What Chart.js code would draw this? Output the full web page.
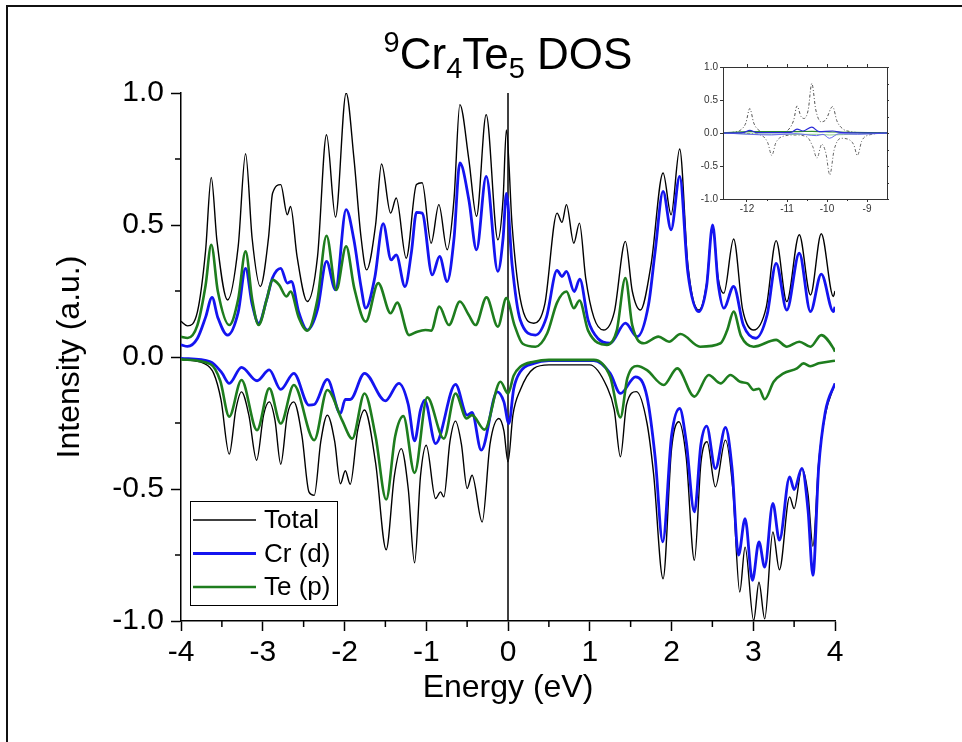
<!DOCTYPE html>
<html>
<head>
<meta charset="utf-8">
<title>Cr4Te5 DOS</title>
<script src="https://cdn.jsdelivr.net/npm/chart.js@4.4.1/dist/chart.umd.min.js"></script>
<style>
  html, body { margin: 0; padding: 0; background: #fff; }
  #wrap { position: relative; width: 962px; height: 742px; overflow: hidden; }
  #main { position: absolute; left: 0; top: 0; }
  #inset { position: absolute; left: 680px; top: 50px; }
</style>
</head>
<body>
<div id="wrap">
  <canvas id="main" width="962" height="742"></canvas>
  <canvas id="inset" width="220" height="170"></canvas>
</div>
<script>
// 読み取った値 (energy eV, intensity)
const totalUp = [[-4.00,0.135],[-3.92,0.118],[-3.80,0.17],[-3.70,0.40],[-3.63,0.68],[-3.56,0.44],[-3.43,0.216],[-3.30,0.42],[-3.21,0.77],[-3.13,0.45],[-3.03,0.267],[-2.93,0.45],[-2.88,0.62],[-2.78,0.653],[-2.70,0.539],[-2.66,0.57],[-2.58,0.38],[-2.455,0.21],[-2.33,0.38],[-2.22,0.842],[-2.11,0.53],[-1.98,1.0],[-1.885,0.754],[-1.80,0.46],[-1.73,0.33],[-1.62,0.50],[-1.547,0.731],[-1.436,0.545],[-1.367,0.602],[-1.245,0.374],[-1.12,0.653],[-1.05,0.66],[-0.94,0.431],[-0.846,0.577],[-0.744,0.406],[-0.66,0.60],[-0.589,0.956],[-0.479,0.748],[-0.385,0.533],[-0.267,0.918],[-0.124,0.444],[-0.06,0.60],[-0.02,0.86],[0.05,0.50],[0.15,0.22],[0.316,0.128],[0.45,0.20],[0.60,0.545],[0.66,0.51],[0.715,0.577],[0.805,0.431],[0.874,0.507],[0.95,0.30],[1.05,0.15],[1.17,0.102],[1.30,0.17],[1.436,0.438],[1.52,0.25],[1.62,0.178],[1.75,0.35],[1.897,0.697],[1.995,0.539],[2.10,0.788],[2.20,0.35],[2.333,0.178],[2.43,0.28],[2.503,0.50],[2.57,0.30],[2.64,0.242],[2.76,0.447],[2.87,0.18],[3.005,0.102],[3.16,0.19],[3.28,0.441],[3.41,0.21],[3.563,0.463],[3.70,0.235],[3.832,0.467],[3.98,0.229],[4.00,0.25]];
const crUp = [[-4.00,0.046],[-3.92,0.040],[-3.80,0.07],[-3.70,0.15],[-3.62,0.226],[-3.55,0.15],[-3.43,0.083],[-3.30,0.17],[-3.21,0.336],[-3.13,0.20],[-3.05,0.128],[-2.95,0.22],[-2.88,0.30],[-2.78,0.336],[-2.70,0.28],[-2.65,0.286],[-2.56,0.17],[-2.455,0.102],[-2.33,0.18],[-2.22,0.362],[-2.11,0.254],[-1.98,0.558],[-1.885,0.444],[-1.80,0.27],[-1.74,0.185],[-1.63,0.30],[-1.527,0.505],[-1.43,0.368],[-1.367,0.387],[-1.26,0.267],[-1.18,0.40],[-1.12,0.548],[-1.05,0.545],[-0.927,0.311],[-0.837,0.381],[-0.744,0.286],[-0.66,0.45],[-0.589,0.735],[-0.479,0.596],[-0.385,0.406],[-0.267,0.684],[-0.124,0.324],[-0.06,0.45],[-0.02,0.62],[0.05,0.35],[0.15,0.14],[0.336,0.083],[0.47,0.15],[0.60,0.328],[0.66,0.305],[0.715,0.324],[0.81,0.248],[0.878,0.295],[0.98,0.14],[1.10,0.07],[1.25,0.052],[1.436,0.128],[1.58,0.077],[1.72,0.20],[1.80,0.40],[1.897,0.627],[1.995,0.482],[2.10,0.684],[2.20,0.32],[2.333,0.172],[2.43,0.27],[2.503,0.50],[2.57,0.28],[2.64,0.185],[2.76,0.267],[2.88,0.12],[3.03,0.071],[3.17,0.16],[3.28,0.355],[3.41,0.178],[3.563,0.393],[3.70,0.172],[3.832,0.314],[3.98,0.172],[4.00,0.19]];
const teUp = [[-4.00,0.077],[-3.92,0.072],[-3.80,0.12],[-3.70,0.27],[-3.63,0.425],[-3.55,0.25],[-3.41,0.121],[-3.30,0.22],[-3.21,0.40],[-3.13,0.22],[-3.05,0.121],[-2.95,0.22],[-2.88,0.292],[-2.80,0.273],[-2.71,0.229],[-2.66,0.248],[-2.56,0.15],[-2.455,0.10],[-2.33,0.22],[-2.22,0.459],[-2.10,0.254],[-1.98,0.419],[-1.88,0.26],[-1.74,0.134],[-1.587,0.28],[-1.436,0.166],[-1.355,0.206],[-1.21,0.083],[-1.11,0.096],[-1.01,0.102],[-0.94,0.10],[-0.84,0.191],[-0.723,0.121],[-0.589,0.21],[-0.48,0.159],[-0.397,0.121],[-0.263,0.226],[-0.124,0.115],[-0.02,0.223],[0.08,0.12],[0.18,0.05],[0.336,0.039],[0.48,0.09],[0.60,0.206],[0.715,0.248],[0.805,0.185],[0.874,0.214],[0.98,0.10],[1.21,0.046],[1.33,0.10],[1.436,0.299],[1.52,0.12],[1.66,0.052],[1.84,0.077],[1.97,0.058],[2.11,0.087],[2.35,0.039],[2.60,0.052],[2.68,0.10],[2.76,0.172],[2.85,0.08],[3.005,0.039],[3.28,0.065],[3.41,0.039],[3.563,0.058],[3.70,0.039],[3.832,0.083],[3.98,0.033],[4.00,0.02]];
const totalDown = [[-4.00,-0.009],[-3.72,-0.024],[-3.60,-0.062],[-3.51,-0.163],[-3.41,-0.368],[-3.33,-0.20],[-3.26,-0.132],[-3.17,-0.22],[-3.075,-0.391],[-2.99,-0.22],[-2.92,-0.17],[-2.85,-0.24],[-2.78,-0.406],[-2.70,-0.22],[-2.62,-0.17],[-2.52,-0.30],[-2.435,-0.511],[-2.37,-0.524],[-2.29,-0.32],[-2.21,-0.22],[-2.12,-0.32],[-2.05,-0.48],[-1.99,-0.431],[-1.93,-0.482],[-1.84,-0.28],[-1.755,-0.201],[-1.62,-0.40],[-1.49,-0.73],[-1.39,-0.45],[-1.306,-0.347],[-1.22,-0.50],[-1.143,-0.78],[-1.07,-0.45],[-1.0,-0.334],[-0.886,-0.536],[-0.825,-0.511],[-0.785,-0.53],[-0.71,-0.32],[-0.642,-0.243],[-0.57,-0.33],[-0.50,-0.498],[-0.44,-0.448],[-0.316,-0.625],[-0.22,-0.33],[-0.112,-0.233],[-0.05,-0.28],[0.0,-0.397],[0.06,-0.22],[0.15,-0.125],[0.316,-0.043],[0.50,-0.03],[1.00,-0.03],[1.21,-0.113],[1.30,-0.20],[1.375,-0.378],[1.45,-0.18],[1.57,-0.131],[1.70,-0.25],[1.78,-0.44],[1.897,-0.84],[2.00,-0.35],[2.09,-0.245],[2.18,-0.38],[2.28,-0.77],[2.36,-0.40],[2.435,-0.321],[2.537,-0.492],[2.66,-0.315],[2.75,-0.50],[2.835,-0.89],[2.90,-0.72],[3.005,-0.998],[3.07,-0.853],[3.14,-0.992],[3.24,-0.663],[3.32,-0.806],[3.445,-0.53],[3.50,-0.574],[3.595,-0.422],[3.67,-0.52],[3.73,-0.717],[3.80,-0.40],[3.88,-0.22],[4.00,-0.10]];
const crDown = [[-4.00,-0.005],[-3.64,-0.018],[-3.50,-0.06],[-3.41,-0.10],[-3.26,-0.039],[-3.07,-0.09],[-2.92,-0.049],[-2.78,-0.123],[-2.62,-0.062],[-2.435,-0.182],[-2.37,-0.18],[-2.21,-0.085],[-2.05,-0.214],[-1.99,-0.161],[-1.93,-0.161],[-1.755,-0.062],[-1.50,-0.166],[-1.335,-0.10],[-1.22,-0.18],[-1.143,-0.318],[-1.07,-0.20],[-1.02,-0.163],[-0.886,-0.328],[-0.642,-0.104],[-0.50,-0.22],[-0.44,-0.21],[-0.328,-0.353],[-0.132,-0.132],[-0.05,-0.17],[0.01,-0.252],[0.07,-0.12],[0.15,-0.056],[0.316,-0.024],[0.50,-0.014],[1.05,-0.014],[1.25,-0.062],[1.375,-0.138],[1.56,-0.075],[1.70,-0.15],[1.80,-0.38],[1.893,-0.70],[2.00,-0.30],[2.10,-0.195],[2.18,-0.32],[2.28,-0.587],[2.36,-0.33],[2.43,-0.262],[2.537,-0.423],[2.66,-0.267],[2.74,-0.42],[2.82,-0.75],[2.90,-0.612],[2.99,-0.846],[3.07,-0.70],[3.14,-0.796],[3.24,-0.555],[3.32,-0.694],[3.445,-0.454],[3.50,-0.502],[3.595,-0.422],[3.67,-0.58],[3.73,-0.827],[3.80,-0.42],[3.88,-0.21],[4.00,-0.10]];
const teDown = [[-4.00,-0.009],[-3.64,-0.027],[-3.52,-0.09],[-3.41,-0.226],[-3.26,-0.087],[-3.07,-0.277],[-2.92,-0.119],[-2.78,-0.252],[-2.62,-0.106],[-2.37,-0.315],[-2.21,-0.125],[-2.03,-0.239],[-1.905,-0.309],[-1.755,-0.138],[-1.62,-0.30],[-1.49,-0.54],[-1.38,-0.30],[-1.28,-0.224],[-1.143,-0.439],[-0.988,-0.153],[-0.785,-0.309],[-0.642,-0.138],[-0.507,-0.233],[-0.44,-0.22],[-0.287,-0.275],[-0.092,-0.094],[0.0,-0.138],[0.07,-0.07],[0.15,-0.037],[0.316,-0.018],[0.50,-0.011],[1.05,-0.011],[1.25,-0.075],[1.375,-0.229],[1.46,-0.08],[1.58,-0.034],[1.70,-0.05],[1.905,-0.106],[2.07,-0.043],[2.28,-0.15],[2.455,-0.068],[2.60,-0.10],[2.72,-0.068],[2.84,-0.094],[2.93,-0.10],[3.005,-0.125],[3.07,-0.12],[3.14,-0.16],[3.25,-0.094],[3.37,-0.062],[3.535,-0.043],[3.615,-0.024],[3.70,-0.035],[3.80,-0.024],[4.00,-0.014]];
const fermiLine = [[0,-1],[0,1]];

// インセット (-12.6 〜 -8.5 eV)
const insetTotalUp = [[-12.6,0],[-12.35,0.01],[-12.15,0.05],[-12.03,0.15],[-11.93,0.37],[-11.83,0.15],[-11.7,0.04],[-11.5,0.01],[-11.1,0.01],[-10.95,0.06],[-10.83,0.2],[-10.75,0.41],[-10.65,0.25],[-10.57,0.22],[-10.47,0.35],[-10.38,0.75],[-10.28,0.35],[-10.15,0.17],[-10.03,0.2],[-9.86,0.40],[-9.75,0.18],[-9.6,0.06],[-9.4,0.02],[-9.2,0.005],[-8.5,0]];
const insetTotalDown = [[-12.6,0],[-11.9,-0.01],[-11.6,-0.05],[-11.48,-0.15],[-11.38,-0.34],[-11.28,-0.15],[-11.1,-0.05],[-10.8,-0.03],[-10.5,-0.06],[-10.36,-0.2],[-10.25,-0.38],[-10.13,-0.17],[-10.03,-0.3],[-9.93,-0.635],[-9.82,-0.25],[-9.65,-0.08],[-9.45,-0.1],[-9.33,-0.18],[-9.24,-0.34],[-9.13,-0.12],[-8.95,-0.03],[-8.5,0]];
const insetCrUp = [[-12.6,0],[-12.1,0.005],[-11.93,0.04],[-11.75,0.005],[-10.9,0.01],[-10.75,0.06],[-10.6,0.03],[-10.38,0.09],[-10.2,0.02],[-9.86,0.03],[-9.6,0.005],[-8.5,0]];
const insetCrDown = [[-12.6,0],[-11.39,-0.03],[-10.8,-0.01],[-10.26,-0.04],[-10.1,-0.02],[-9.94,-0.08],[-9.7,-0.01],[-9.24,-0.02],[-8.5,0]];
const insetTeUp = [[-12.6,0.003],[-11.93,0.02],[-10.75,0.02],[-10.38,0.025],[-9.86,0.015],[-8.5,0.003]];
const insetTeDown = [[-12.6,-0.003],[-11.39,-0.02],[-10.26,-0.02],[-9.94,-0.03],[-9.24,-0.015],[-8.5,-0.003]];

const xTicks = [-4, -3, -2, -1, 0, 1, 2, 3, 4];
const xMinorTicks = [-3.5, -2.5, -1.5, -0.5, 0.5, 1.5, 2.5, 3.5];
const yMinorTicks = [0.75, 0.25, -0.25, -0.75];
const insetXTicks = [-12, -11, -10, -9];
const titleParts = [['9', 'sup'], ['Cr', ''], ['4', 'sub'], ['Te', ''], ['5', 'sub'], [' DOS', '']];

const FONT = '"Liberation Sans", Arial, sans-serif';
const BLUE = '#1414f0';
const GREEN = '#1e7d1e';

const toXY = arr => arr.map(p => ({ x: p[0], y: p[1] }));

// 外枠、タイトル、副目盛り、凡例
const framePlugin = {
    id: 'frame',
    beforeDraw(chart) {
        const ctx = chart.ctx;
        ctx.save();
        ctx.fillStyle = '#fff';
        ctx.fillRect(0, 0, chart.width, chart.height);
        ctx.strokeStyle = '#111';
        ctx.lineWidth = 2;
        ctx.beginPath();
        ctx.moveTo(7, 742);
        ctx.lineTo(7, 6);
        ctx.lineTo(962, 6);
        ctx.stroke();
        ctx.restore();
    }
};

const titlePlugin = {
    id: 'richTitle',
    afterDraw(chart) {
        const { ctx, chartArea } = chart;
        const big = 44, small = 29;
        const fontOf = k => `${k ? small : big}px ${FONT}`;
        ctx.save();
        ctx.fillStyle = '#000';
        ctx.textBaseline = 'alphabetic';
        let w = 0;
        titleParts.forEach(([t, k]) => { ctx.font = fontOf(k); w += ctx.measureText(t).width; });
        let x = (chartArea.left + chartArea.right) / 2 - w / 2;
        const base = 69;
        titleParts.forEach(([t, k]) => {
            ctx.font = fontOf(k);
            const dy = k === 'sup' ? -17 : (k === 'sub' ? 9 : 0);
            ctx.fillText(t, x, base + dy);
            x += ctx.measureText(t).width;
        });
        ctx.restore();
    }
};

const minorTickPlugin = {
    id: 'minorTicks',
    afterDraw(chart) {
        const { ctx, chartArea } = chart;
        const xs = chart.scales.x, ys = chart.scales.y;
        ctx.save();
        ctx.strokeStyle = '#000';
        ctx.lineWidth = 1.5;
        ctx.beginPath();
        xMinorTicks.forEach(v => {
            const px = xs.getPixelForValue(v);
            ctx.moveTo(px, chartArea.bottom);
            ctx.lineTo(px, chartArea.bottom + 6);
        });
        yMinorTicks.forEach(v => {
            const py = ys.getPixelForValue(v);
            ctx.moveTo(chartArea.left, py);
            ctx.lineTo(chartArea.left - 6, py);
        });
        ctx.stroke();
        ctx.restore();
    }
};

const legendPlugin = {
    id: 'boxLegend',
    afterDraw(chart) {
        const ctx = chart.ctx;
        const items = chart.data.datasets.filter(d => d.legendLabel);
        const left = 190, top = 501, w = 147, h = 104, rowH = 33.5;
        ctx.save();
        ctx.fillStyle = '#fff';
        ctx.fillRect(left, top, w, h);
        ctx.strokeStyle = '#000';
        ctx.lineWidth = 1;
        ctx.strokeRect(left + 0.5, top + 0.5, w, h);
        ctx.font = `26px ${FONT}`;
        ctx.textBaseline = 'middle';
        ctx.fillStyle = '#000';
        items.sort((a, b) => a.legendRank - b.legendRank).forEach((d, i) => {
            const y = top + 19 + i * rowH;
            ctx.strokeStyle = d.borderColor;
            ctx.lineWidth = d.borderWidth;
            ctx.beginPath();
            ctx.moveTo(left + 3, y);
            ctx.lineTo(left + 66, y);
            ctx.stroke();
            ctx.fillText(d.legendLabel, left + 74, y + 1);
        });
        ctx.restore();
    }
};

function line(data, color, width, order, extra) {
    return Object.assign({
        data: toXY(data),
        borderColor: color,
        borderWidth: width,
        pointRadius: 0,
        fill: false,
        cubicInterpolationMode: 'monotone',
        order: order
    }, extra || {});
}

new Chart(document.getElementById('main'), {
    type: 'line',
    data: {
        datasets: [
            line(teUp, GREEN, 2.6, 1, { legendLabel: 'Te (p)', legendRank: 3 }),
            line(teDown, GREEN, 2.6, 1),
            line(crUp, BLUE, 2.8, 2, { legendLabel: 'Cr (d)', legendRank: 2 }),
            line(crDown, BLUE, 2.8, 2),
            line(totalUp, '#000', 1.4, 3, { legendLabel: 'Total', legendRank: 1 }),
            line(totalDown, '#000', 1.4, 3),
            line(fermiLine, '#000', 1.5, 4, { cubicInterpolationMode: 'default', tension: 0 })
        ]
    },
    options: {
        responsive: false,
        devicePixelRatio: 1,
        animation: false,
        events: [],
        layout: { padding: { left: 0, top: 93, right: 127, bottom: 0 } },
        plugins: { legend: { display: false }, title: { display: false }, tooltip: { enabled: false } },
        scales: {
            x: {
                type: 'linear',
                min: -4, max: 4,
                afterBuildTicks: s => { s.ticks = xTicks.map(v => ({ value: v })); },
                afterFit: s => { s.height = 121; },
                grid: { drawOnChartArea: false, drawTicks: true, tickLength: 10, tickWidth: 1.5, tickColor: '#000' },
                border: { display: true, color: '#000', width: 1.5 },
                ticks: { color: '#000', font: { family: FONT, size: 30, lineHeight: 1 }, padding: 7, maxRotation: 0, callback: v => String(v) },
                title: { display: true, text: 'Energy (eV)', color: '#000', font: { family: FONT, size: 32, lineHeight: 1.2 }, padding: { top: 0, bottom: 35 } }
            },
            y: {
                type: 'linear',
                min: -1, max: 1,
                afterBuildTicks: s => { s.ticks = [-1, -0.5, 0, 0.5, 1].map(v => ({ value: v })); },
                afterFit: s => { s.width = 181; },
                grid: { drawOnChartArea: false, drawTicks: true, tickLength: 10, tickWidth: 1.5, tickColor: '#000' },
                border: { display: true, color: '#000', width: 1.5 },
                ticks: { color: '#000', font: { family: FONT, size: 30, lineHeight: 1 }, padding: 7, callback: v => v.toFixed(1) },
                title: { display: true, text: 'Intensity (a.u.)', color: '#000', font: { family: FONT, size: 32, lineHeight: 1.2 }, padding: { top: 51, bottom: 0 } }
            }
        }
    },
    plugins: [framePlugin, minorTickPlugin, titlePlugin, legendPlugin]
});

// インセット
const insetFramePlugin = {
    id: 'insetFrame',
    beforeDatasetsDraw(chart) {
        const { ctx, chartArea: a } = chart;
        ctx.save();
        ctx.fillStyle = '#fff';
        ctx.fillRect(a.left, a.top, a.right - a.left, a.bottom - a.top);
        ctx.restore();
    },
    afterDraw(chart) {
        const { ctx, chartArea: a } = chart;
        const xs = chart.scales.x, ys = chart.scales.y;
        ctx.save();
        ctx.strokeStyle = '#333';
        ctx.lineWidth = 1;
        ctx.strokeRect(a.left + 0.5, a.top + 0.5, a.right - a.left, a.bottom - a.top);
        ctx.beginPath();
        insetXTicks.forEach(v => {
            const px = Math.round(xs.getPixelForValue(v)) + 0.5;
            ctx.moveTo(px, a.top);
            ctx.lineTo(px, a.top - 3);
        });
        [-11.5, -10.5, -9.5].forEach(v => {
            const px = Math.round(xs.getPixelForValue(v)) + 0.5;
            ctx.moveTo(px, a.top); ctx.lineTo(px, a.top - 2);
            ctx.moveTo(px, a.bottom); ctx.lineTo(px, a.bottom + 2);
        });
        [-1, -0.75, -0.5, -0.25, 0, 0.25, 0.5, 0.75, 1].forEach(v => {
            const py = Math.round(ys.getPixelForValue(v)) + 0.5;
            ctx.moveTo(a.right, py);
            ctx.lineTo(a.right + 2, py);
        });
        ctx.stroke();
        ctx.restore();
    }
};

function thin(data, color, width, dash) {
    return {
        data: toXY(data),
        borderColor: color,
        borderWidth: width,
        borderDash: dash || [],
        pointRadius: 0,
        fill: false,
        cubicInterpolationMode: 'monotone'
    };
}

new Chart(document.getElementById('inset'), {
    type: 'line',
    data: {
        datasets: [
            thin(insetCrUp, '#2a2ad8', 1.2),
            thin(insetCrDown, '#6a6af0', 1),
            thin(insetTeUp, '#2e8b2e', 1.2),
            thin(insetTeDown, '#8ccf8c', 1),
            thin(insetTotalUp, '#555', 1, [3, 2, 1, 2]),
            thin(insetTotalDown, '#666', 1, [3, 2, 1, 2])
        ]
    },
    options: {
        responsive: false,
        devicePixelRatio: 1,
        animation: false,
        events: [],
        layout: { padding: { left: 0, top: 17, right: 13, bottom: 0 } },
        plugins: { legend: { display: false }, title: { display: false }, tooltip: { enabled: false } },
        scales: {
            x: {
                type: 'linear',
                min: -12.6, max: -8.5,
                afterBuildTicks: s => { s.ticks = insetXTicks.map(v => ({ value: v })); },
                afterFit: s => { s.height = 21; },
                grid: { drawOnChartArea: false, drawTicks: true, tickLength: 3, tickColor: '#333' },
                border: { display: true, color: '#333', width: 1 },
                ticks: { color: '#333', font: { family: FONT, size: 10, lineHeight: 1 }, padding: 2, maxRotation: 0, callback: v => String(v) }
            },
            y: {
                type: 'linear',
                min: -1, max: 1,
                afterBuildTicks: s => { s.ticks = [-1, -0.5, 0, 0.5, 1].map(v => ({ value: v })); },
                afterFit: s => { s.width = 43; },
                grid: { drawOnChartArea: false, drawTicks: true, tickLength: 3, tickColor: '#333' },
                border: { display: true, color: '#333', width: 1 },
                ticks: { color: '#333', font: { family: FONT, size: 10, lineHeight: 1 }, padding: 2, callback: v => v.toFixed(1) }
            }
        }
    },
    plugins: [insetFramePlugin]
});
</script>
</body>
</html>
